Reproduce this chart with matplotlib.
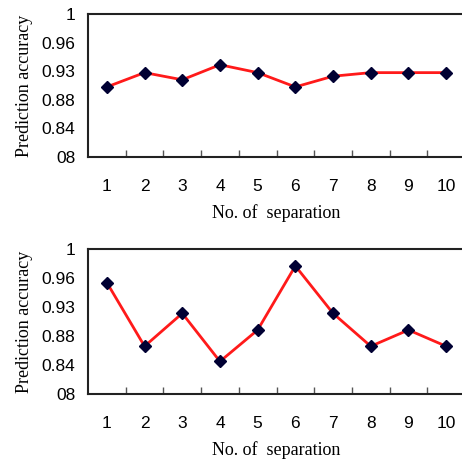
import matplotlib
matplotlib.use("Agg")
import matplotlib.pyplot as plt
import numpy as np

separations = [1, 2, 3, 4, 5, 6, 7, 8, 9, 10]
acc_top = [0.898, 0.918, 0.908, 0.929, 0.918, 0.898, 0.913, 0.918, 0.918, 0.918]
acc_bottom = [0.954, 0.866, 0.9115, 0.845, 0.8885, 0.977, 0.9115, 0.866, 0.8885, 0.866]
ytick_vals = [0.80, 0.84, 0.88, 0.92, 0.96, 1.0]
ytick_labels = ["08", "0.84", "0.88", "0.93", "0.96", "1"]
xlabel = "No. of  separation"
ylabel = "Prediction accuracy"

W, H = 462, 459
fig = plt.figure(figsize=(W / 100, H / 100), dpi=100)

def make_axes(top_px, bottom_px, values):
    left_px = 88
    right_px = 88 + 37.7 * 10
    ax = fig.add_axes([left_px / W, (H - bottom_px) / H,
                       (right_px - left_px) / W, (bottom_px - top_px) / H])
    ax.plot(separations, values, color="#ff1a1a", lw=2, marker="D",
            markersize=6.3, markerfacecolor="#000033", markeredgecolor="#000033",
            zorder=3)
    ax.set_xlim(0.5, 10.5)
    ax.set_ylim(0.8, 1.0)
    ax.set_yticks(ytick_vals)
    ax.set_yticklabels(ytick_labels, fontfamily="Liberation Sans", fontsize=12.5)
    ax.set_xticks(separations)
    ax.set_xticklabels([str(s) for s in separations], fontfamily="Liberation Sans", fontsize=12.5)
    ax.set_xticks(np.arange(1.5, 10.5, 1), minor=True)
    ax.tick_params(axis="x", which="major", length=0, pad=16)
    ax.tick_params(axis="x", which="minor", length=5, direction="in", color="#555555", width=1)
    ax.tick_params(axis="y", which="major", length=0, pad=9)
    for s in ax.spines.values():
        s.set_color("#222222")
        s.set_linewidth(1.5)
    ax.set_xlabel(xlabel, fontfamily="Liberation Serif", fontsize=13, labelpad=7)
    ax.set_ylabel(ylabel, fontfamily="Liberation Serif", fontsize=13, labelpad=6)
    return ax

make_axes(14, 157, acc_top)
make_axes(249.3, 394, acc_bottom)

fig.savefig("out.png", dpi=100)
